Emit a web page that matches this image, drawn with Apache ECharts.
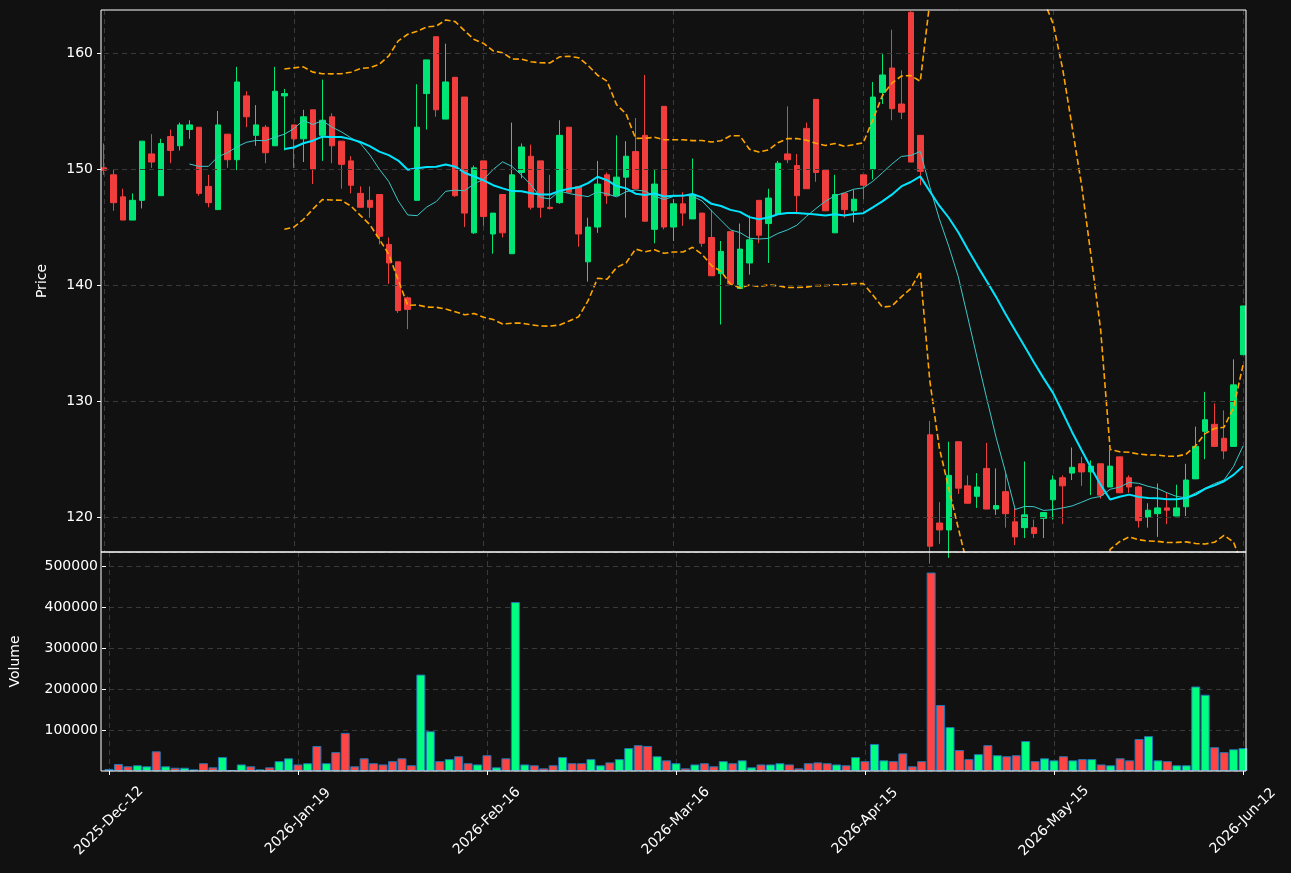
<!DOCTYPE html>
<html><head><meta charset="utf-8">
<script src="https://cdn.jsdelivr.net/npm/echarts@6/dist/echarts.min.js"></script>
<style>html,body{margin:0;padding:0;background:#111111;}#c{width:1291px;height:873px;}</style>
</head><body><div id="c"></div>
<script>
const tickLabels = ['2025-Dec-12','2026-Jan-19','2026-Feb-16','2026-Mar-16','2026-Apr-15','2026-May-15','2026-Jun-12'];
const opens = [150.1,149.5,147.6,145.6,147.3,151.3,147.7,152.8,152.0,153.4,
153.6,148.5,146.5,153.0,150.8,156.3,152.9,153.6,152.0,156.3,
153.8,152.6,155.1,152.9,154.5,152.4,150.7,147.9,147.3,147.8,
143.5,142.0,138.9,147.3,156.5,161.4,154.3,157.9,156.2,144.5,
150.7,144.4,147.8,142.7,149.7,151.1,150.7,146.7,147.1,153.6,
148.5,142.0,145.0,149.5,147.7,149.3,151.5,152.9,144.8,155.4,
145.0,147.0,145.7,146.2,144.1,141.0,144.6,139.7,141.9,147.3,
145.3,146.1,151.3,150.3,153.5,156.0,149.9,144.5,147.9,146.4,
149.5,150.0,156.6,158.7,155.6,163.5,152.9,127.1,119.5,118.9,
126.5,122.7,121.8,124.2,120.7,122.2,119.6,119.1,119.1,119.9,
121.5,123.4,123.8,124.6,123.9,124.6,122.6,125.2,123.4,122.6,
120.0,120.3,120.8,120.1,120.9,123.3,127.4,128.0,126.8,126.1,134.0];
const closes = [149.9,147.1,145.6,147.3,152.4,150.6,152.2,151.6,153.8,153.8,
147.9,147.1,153.8,150.8,157.5,154.5,153.8,151.4,156.7,156.5,
152.6,154.5,150.0,154.2,152.0,150.4,148.6,146.7,146.7,144.2,
141.9,137.8,137.9,153.6,159.4,155.1,157.5,147.7,146.2,150.1,
145.9,146.2,144.5,149.5,151.9,146.7,146.7,146.6,152.9,148.0,
144.4,145.0,148.7,147.7,149.3,151.1,148.3,145.5,148.7,145.0,
147.0,146.2,147.8,143.6,140.8,142.9,140.1,143.1,143.9,144.3,
147.5,150.5,150.8,147.7,148.3,149.7,146.4,147.8,146.5,147.4,
148.6,156.2,158.1,155.2,154.9,150.6,149.8,117.5,118.9,123.6,
122.5,121.2,122.6,120.7,121.0,120.3,118.3,120.2,118.6,120.4,
123.2,122.7,124.3,123.9,124.4,121.9,124.4,122.1,122.6,119.7,
120.6,120.8,120.6,120.8,123.2,126.1,128.4,126.1,125.7,131.4,138.2];
const highs = [152.2,150.0,148.3,147.9,152.4,153.0,152.6,153.4,154.0,154.2,
153.6,149.5,155.0,153.0,158.8,156.7,155.5,153.8,158.8,156.9,
153.8,155.1,155.1,157.7,154.8,152.4,151.1,148.5,148.5,147.8,
144.1,142.0,139.0,157.3,159.4,161.4,160.8,157.9,156.2,150.3,
150.7,146.2,147.8,154.0,152.2,152.1,150.7,149.5,154.2,153.6,
148.5,145.8,150.7,149.7,152.9,152.4,154.4,158.1,149.9,155.4,
147.4,148.0,150.9,146.2,146.5,143.8,144.6,145.3,146.0,147.3,
148.3,150.7,155.4,151.3,154.0,156.0,149.9,149.5,147.9,148.2,
149.5,157.5,160.0,162.0,158.5,163.6,152.9,128.3,121.3,126.5,
126.5,123.6,123.8,126.4,124.2,123.8,120.8,124.8,119.8,120.4,
123.6,123.6,126.0,125.2,124.9,124.6,125.8,125.2,123.6,122.7,
121.2,122.9,122.1,122.8,124.6,127.8,130.8,129.8,129.2,133.6,138.2];
const lows = [149.5,146.4,145.6,145.6,146.6,150.1,147.7,150.5,151.6,152.6,
147.7,146.7,146.5,150.1,149.9,153.6,152.0,150.5,152.0,151.6,
150.1,150.6,148.7,150.7,150.5,148.3,147.9,146.7,145.8,143.5,
140.1,137.6,136.2,147.3,153.4,154.5,154.3,147.6,145.0,144.4,
145.1,142.7,144.1,142.7,149.2,146.5,145.8,146.5,147.0,148.0,
143.3,140.3,144.5,147.0,147.7,145.8,148.3,145.5,143.6,144.8,
143.8,145.1,145.7,143.3,140.8,136.6,140.1,139.7,140.9,143.6,
141.9,146.1,150.5,146.1,148.3,148.9,146.4,144.5,145.8,145.4,
147.4,149.1,155.6,154.2,154.3,150.6,148.6,116.0,117.7,116.5,
122.0,121.2,120.8,120.7,120.2,119.1,117.6,118.2,118.2,118.2,
119.8,119.4,123.2,122.7,121.9,121.6,122.6,122.1,122.1,119.1,
119.1,118.3,119.4,120.1,120.1,123.3,125.0,126.1,125.0,126.1,134.0];
const volumes = [5000,17000,11500,14000,11500,48000,11500,8000,8000,4000,
19000,9000,34000,2500,16000,11500,4000,9000,24000,31000,
16000,19000,61000,19000,46000,93000,11500,31000,19000,16000,
24000,31000,14000,235000,97000,24000,29000,36000,19000,16000,
38500,9000,31000,412000,16000,14000,6500,14000,34000,19000,
19000,29000,14000,21000,29000,56000,63000,61000,36000,26000,
19000,6500,16000,19000,11500,24000,19000,26000,9000,16000,
16000,19000,16000,6500,19000,21000,19000,16000,14000,34000,
24000,66000,26000,24000,43000,11500,24000,484000,161000,107000,
51000,29000,41000,63000,38500,36000,38500,73000,24000,31000,
26000,36000,26000,29000,29000,16000,14000,31000,26000,78000,
85000,26000,24000,14000,14000,206000,186000,58000,46000,53000,56000];

const N = closes.length;
const idx = closes.map((_, i) => i);
function rolling(p) {
  const ma = [], up = [], lo = [];
  for (let i = 0; i < N; i++) {
    if (i < p - 1) { ma.push('-'); up.push('-'); lo.push('-'); continue; }
    const w = closes.slice(i - p + 1, i + 1);
    const m = w.reduce((a, b) => a + b, 0) / p;
    const sd = Math.sqrt(w.reduce((a, b) => a + (b - m) * (b - m), 0) / (p - 1));
    ma.push(m); up.push(m + 2 * sd); lo.push(m - 2 * sd);
  }
  return {ma, up, lo};
}
const r10 = rolling(10), r20 = rolling(20);
const UP = '#00e676', DN = '#f23d3d';
const candles = idx.map(i => [opens[i], closes[i], lows[i], highs[i]]);
const volData = idx.map(i => ({value: volumes[i], itemStyle: {color: closes[i] >= opens[i] ? '#00ff80' : '#ff4444'}}));

const L = 104, R = 1291 - 1243;
const font = 'DejaVu Sans';
const gridLines = [120,130,140,150,160].map(v => ({yAxis: v}));
const chart = echarts.init(document.getElementById('c'));
chart.setOption({
  backgroundColor: '#111111',
  animation: false,
  textStyle: {fontFamily: font},
  grid: [
    {left: L, right: R, top: 10, height: 542},
    {left: L, right: R, top: 552, height: 219}
  ],
  xAxis: [
    {type: 'category', data: idx, gridIndex: 0, boundaryGap: false,
     axisLine: {show: false}, axisTick: {show: false}, axisLabel: {show: false},
     splitLine: {show: true, interval: 19, lineStyle: {color: '#3a3a3a', type: [5, 4]}}},
    {type: 'category', data: idx, gridIndex: 1, boundaryGap: false,
     axisLine: {show: false},
     axisTick: {show: true, interval: 19, length: 4, lineStyle: {color: '#ffffff'}},
     axisLabel: {interval: 19, rotate: 45, color: '#ffffff', fontSize: 14, fontFamily: font, margin: 50,
       align: 'center', verticalAlign: 'middle',
       formatter: (v, i) => (i % 20 === 0 ? tickLabels[i / 20] : '')},
     splitLine: {show: true, interval: 19, lineStyle: {color: '#3a3a3a', type: [5, 4]}}}
  ],
  yAxis: [
    {type: 'value', gridIndex: 0, min: 117, max: 163.7, offset: 3, scale: true,
     name: 'Price', nameLocation: 'middle', nameGap: 52, nameRotate: 90,
     nameTextStyle: {color: '#ffffff', fontSize: 14, fontFamily: font},
     axisLine: {show: false},
     axisTick: {show: true, customValues: [120,130,140,150,160], length: 4, lineStyle: {color: '#ffffff'}},
     axisLabel: {customValues: [120,130,140,150,160], color: '#ffffff', fontSize: 14, fontFamily: font},
     splitLine: {show: false}},
    {type: 'value', gridIndex: 1, min: 0, max: 534000, interval: 100000, offset: 3,
     name: 'Volume', nameLocation: 'middle', nameGap: 84, nameRotate: 90,
     nameTextStyle: {color: '#ffffff', fontSize: 14, fontFamily: font},
     axisLine: {show: false},
     axisTick: {show: true, length: 4, lineStyle: {color: '#ffffff'}},
     axisLabel: {color: '#ffffff', fontSize: 14, fontFamily: font, showMinLabel: false, showMaxLabel: false,
       formatter: v => String(Math.round(v))},
     splitLine: {show: true, lineStyle: {color: '#3a3a3a', type: [5, 4]}}}
  ],
  series: [
    {type: 'candlestick', xAxisIndex: 0, yAxisIndex: 0, data: candles, barWidth: 6,
     itemStyle: {color: UP, color0: DN, borderColor: UP, borderColor0: DN, borderWidth: 1},
     markLine: {silent: true, symbol: 'none', label: {show: false}, animation: false,
       lineStyle: {color: '#3a3a3a', type: [5, 4], width: 1}, data: gridLines}},
    {type: 'line', xAxisIndex: 0, yAxisIndex: 0, data: r10.ma, showSymbol: false, symbol: 'none',
     lineStyle: {color: '#3cc8c8', width: 1}},
    {type: 'line', xAxisIndex: 0, yAxisIndex: 0, data: r20.ma, showSymbol: false, symbol: 'none',
     lineStyle: {color: '#00e5ff', width: 2}},
    {type: 'line', xAxisIndex: 0, yAxisIndex: 0, data: r20.up, showSymbol: false, symbol: 'none',
     lineStyle: {color: '#ffa500', width: 1.6, type: [6, 3]}},
    {type: 'line', xAxisIndex: 0, yAxisIndex: 0, data: r20.lo, showSymbol: false, symbol: 'none',
     lineStyle: {color: '#ffa500', width: 1.6, type: [6, 3]}},
    {type: 'bar', xAxisIndex: 1, yAxisIndex: 1, data: volData, barWidth: 9,
     itemStyle: {borderColor: '#1f77b4', borderWidth: 1}}
  ],
  graphic: [
    {type: 'rect', shape: {x: 101, y: 10, width: 1145, height: 542}, silent: true, z: 100,
     style: {fill: 'none', stroke: '#ffffff', lineWidth: 1}},
    {type: 'rect', shape: {x: 101, y: 552, width: 1145, height: 219}, silent: true, z: 100,
     style: {fill: 'none', stroke: '#ffffff', lineWidth: 1}}
  ]
});
</script></body></html>
